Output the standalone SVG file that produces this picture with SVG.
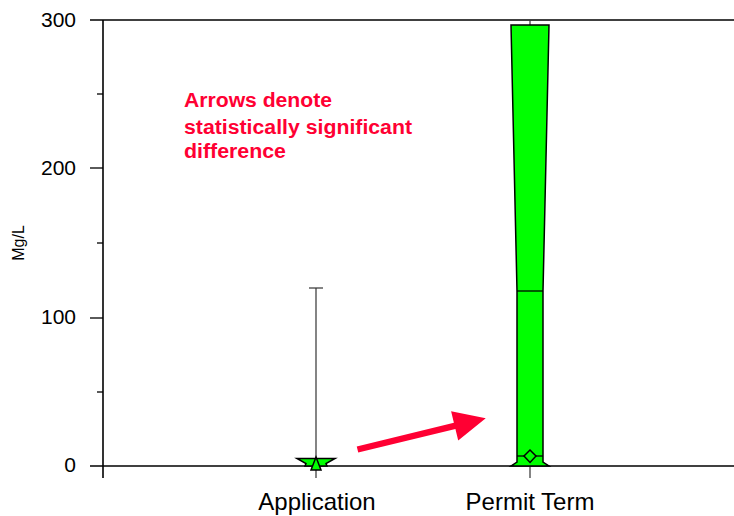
<svg xmlns="http://www.w3.org/2000/svg" width="734" height="516" viewBox="0 0 734 516">
<style>
.ax{stroke:#000;stroke-width:1.6;fill:none}
.tk{stroke:#000;stroke-width:1.3}
.num{font-family:"Liberation Sans",Arial,sans-serif;font-size:21px;fill:#000}
.cat{font-family:"Liberation Sans",Arial,sans-serif;font-size:24px;fill:#000}
.note{font-family:"Liberation Sans",Arial,sans-serif;font-size:20px;font-weight:bold;fill:#FF0033}
.box{fill:#00FF00;stroke:#000;stroke-width:1.5;stroke-linejoin:miter}
.wh{stroke:#333;stroke-width:1.2}
</style>
<rect width="734" height="516" fill="#fff"/>
<g id="axes">
<line class="ax" x1="103" y1="20" x2="103" y2="478"/>
<line class="ax" x1="90" y1="20" x2="734" y2="20"/>
<line class="ax" x1="90" y1="466" x2="734" y2="466"/>
<line class="tk" x1="90" y1="168" x2="103" y2="168"/>
<line class="tk" x1="90" y1="318" x2="103" y2="318"/>
<line class="tk" x1="97" y1="94" x2="103" y2="94"/>
<line class="tk" x1="97" y1="243" x2="103" y2="243"/>
<line class="tk" x1="97" y1="392" x2="103" y2="392"/>
<text class="num" x="76" y="27" text-anchor="end">300</text>
<text class="num" x="76" y="175" text-anchor="end">200</text>
<text class="num" x="76" y="324" text-anchor="end">100</text>
<text class="num" x="76" y="472" text-anchor="end">0</text>
<text class="num" style="font-size:16px" transform="translate(24,243) rotate(-90)" text-anchor="middle">Mg/L</text>
<text class="cat" x="317" y="510" text-anchor="middle">Application</text>
<text class="cat" x="530" y="510" text-anchor="middle">Permit Term</text>
</g>
<g id="note">
<text class="note" x="184" y="107" textLength="148" lengthAdjust="spacingAndGlyphs">Arrows denote</text>
<text class="note" x="184" y="134" textLength="228" lengthAdjust="spacingAndGlyphs">statistically significant</text>
<text class="note" x="184" y="158" textLength="102" lengthAdjust="spacingAndGlyphs">difference</text>
</g>
<g id="application">
<line class="wh" x1="316" y1="288" x2="316" y2="478"/>
<line class="wh" x1="309" y1="288" x2="323" y2="288"/>
<polygon class="box" points="297,458.5 335,458.5 326,463.5 327,466 305,466 306,463.5"/>
<polygon class="box" points="316,457 321,470 311,470"/>
</g>
<g id="permit-term">
<line class="wh" x1="530" y1="20" x2="530" y2="25"/>
<line class="wh" x1="530" y1="466" x2="530" y2="478"/>
<polygon class="box" points="511,25 549,25 543,291 543,462 549,466 511,466 517,462 517,291"/>
<line class="tk" x1="517" y1="291" x2="543" y2="291"/>
<line class="tk" x1="517" y1="456" x2="543" y2="456"/>
<polygon class="box" points="530,450 536,456 530,462.5 524,456"/>
</g>
<g id="connectors">
<polygon fill="#FF0033" transform="translate(357.5,449.5) rotate(-13.7)" points="0,-3.2 100,-3.2 100,-15 132,0 100,15 100,3.2 0,3.2"/>
</g>
</svg>
